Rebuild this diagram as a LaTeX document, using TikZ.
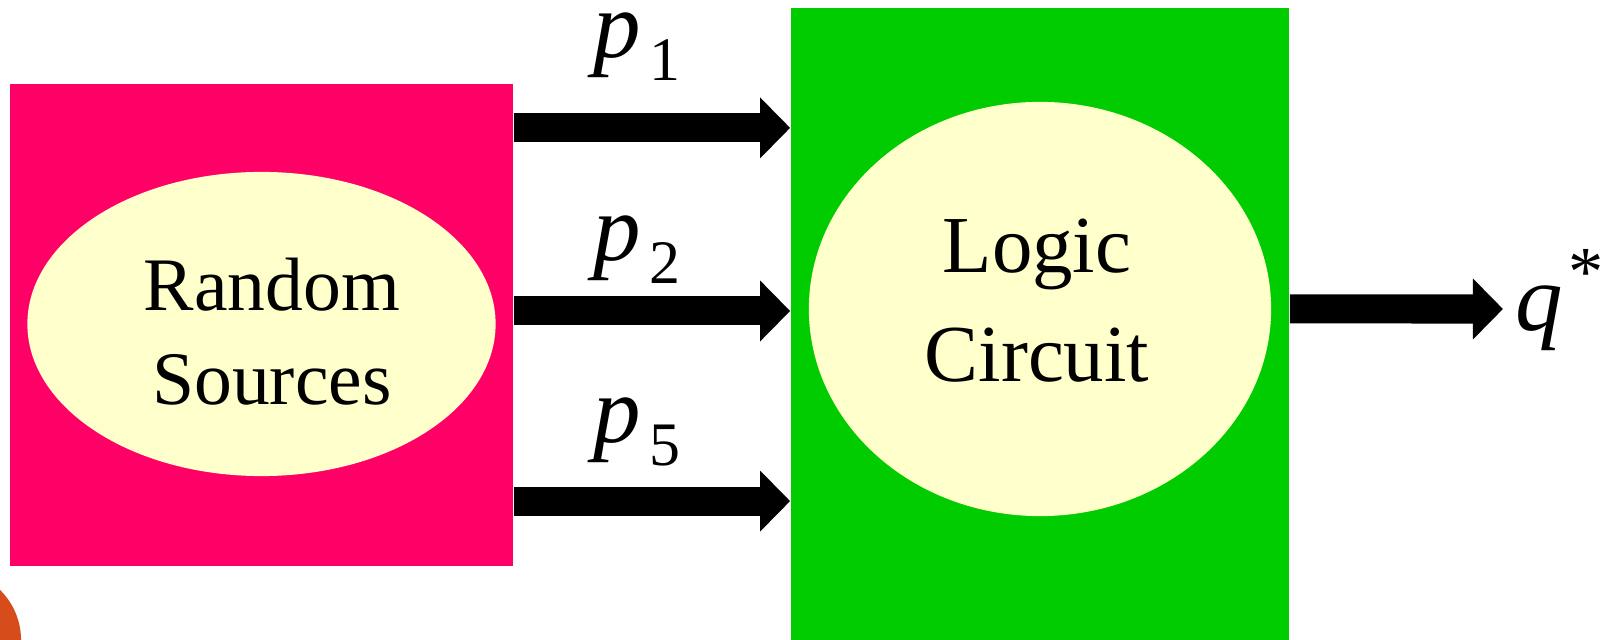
\documentclass[tikz,border=0pt]{standalone}
\usepackage{fontspec}
\setmainfont{Liberation Serif}
\usetikzlibrary{arrows.meta,shapes.geometric}
\definecolor{srcpink}{HTML}{FF0066}
\definecolor{logicgreen}{HTML}{00CC00}
\definecolor{paleyellow}{HTML}{FFFFCC}
\definecolor{dotorange}{HTML}{D64D1B}
\newcommand{\pin}[1]{{\fontsize{27}{27}\selectfont\itshape p}\kern2.5pt\raisebox{-6.5pt}{\fontsize{17.6}{17.6}\selectfont #1}}

\begin{document}
\begin{tikzpicture}[x=0.01cm,y=-0.01cm,
  block/.style={rectangle,inner sep=0pt},
  blob/.style={ellipse,fill=paleyellow,inner sep=0pt},
  bigarrow/.style={line width=0.29cm,-{Triangle[length=0.3cm,width=0.59cm]}},
  lbl/.style={inner sep=0pt,align=center}]
 \useasboundingbox (0,0) rectangle (1608,640);
 \fill[dotorange] (-49,640) circle (0.7cm);
 \node[block,fill=srcpink,minimum width=5.03cm,minimum height=4.82cm] (src) at (261.5,325) {};
 \node[block,fill=logicgreen,minimum width=4.98cm,minimum height=6.32cm] (logic) at (1040,324) {};
 \node[blob,minimum width=4.68cm,minimum height=3.04cm] (srcell) at (261.5,324) {};
 \node[blob,minimum width=4.62cm,minimum height=4.14cm] (logicell) at (1040,309) {};
 \node[lbl,font=\fontsize{21.5}{26.7}\selectfont] (srctxt) at (272,332) {Random\\Sources};
 \node[lbl,font=\fontsize{23}{31}\selectfont] (logictxt) at (1037,301) {Logic\\Circuit};
 % inputs to the circuit
 \draw[bigarrow] ([yshift=1.97cm]src.east) -- ([yshift=1.97cm]src.east -| logic.west);
 \draw[bigarrow] ([yshift=0.14cm]src.east) -- ([yshift=0.14cm]src.east -| logic.west);
 \draw[bigarrow] ([yshift=-1.76cm]src.east) -- ([yshift=-1.76cm]src.east -| logic.west);
 \node[anchor=base west,inner sep=0pt] (p1) at (593,58) {\pin{1}};
 \node[anchor=base west,inner sep=0pt] (p2) at (593,261) {\pin{2}};
 \node[anchor=base west,inner sep=0pt] (p5) at (593,443) {\pin{5}};
 % output
 \coordinate (qin) at (1503,309);
 \draw[bigarrow] ([yshift=0.15cm]logic.east) -- (qin);
 \node[anchor=base west,inner sep=0pt] (qout) at (1515,331)
   {{\fontsize{27}{27}\selectfont\itshape q}\kern1.5pt\raisebox{10.2pt}{\fontsize{20}{20}\selectfont *}};
\end{tikzpicture}
\end{document}
